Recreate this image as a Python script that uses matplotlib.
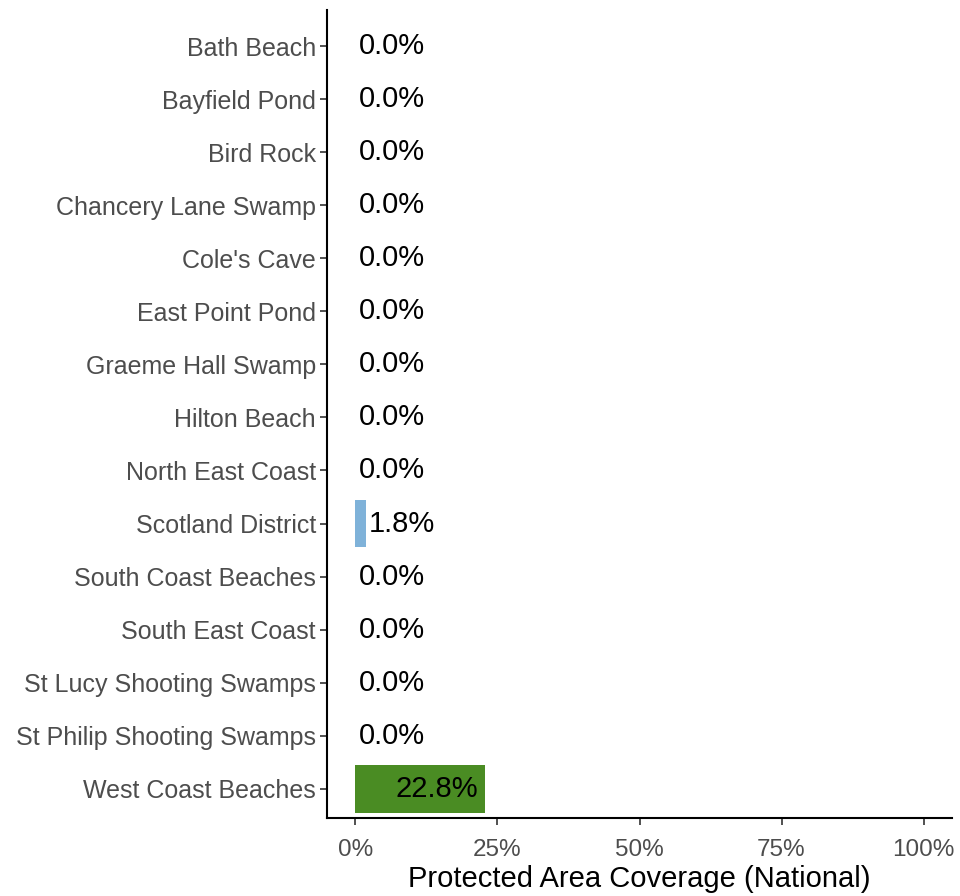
import matplotlib
matplotlib.use("Agg")
import matplotlib.pyplot as plt
from matplotlib.ticker import FuncFormatter

plt.rcParams['font.family'] = ['Liberation Sans', 'DejaVu Sans']

sites = ["Bath Beach", "Bayfield Pond", "Bird Rock", "Chancery Lane Swamp", "Cole's Cave",
         "East Point Pond", "Graeme Hall Swamp", "Hilton Beach", "North East Coast",
         "Scotland District", "South Coast Beaches", "South East Coast",
         "St Lucy Shooting Swamps", "St Philip Shooting Swamps", "West Coast Beaches"]
coverage = [0.0, 0.0, 0.0, 0.0, 0.0, 0.0, 0.0, 0.0, 0.0, 1.8, 0.0, 0.0, 0.0, 0.0, 22.8]
bar_colors = ["#7FB2D9"] * 14 + ["#4A8C23"]
xticks = [0, 25, 50, 75, 100]

fig = plt.figure(figsize=(9.6, 8.96), dpi=100)
ax = fig.add_axes([0.3406, 0.0871, 0.6511, 0.9017])

n = len(sites)
ypos = list(range(n))
ax.barh(ypos, coverage, height=0.9, color=bar_colors)
for y, v in zip(ypos, coverage):
    label = f"{v:.1f}%"
    if v > 10:
        ax.text(v - 1.2, y, label, ha='right', va='center', fontsize=21, color='black')
    else:
        ax.text(v + 0.6, y, label, ha='left', va='center', fontsize=21, color='black')

ax.set_ylim(n - 1 + 0.55, -0.68)
ax.set_xlim(-5, 105)
ax.set_yticks(ypos)
ax.set_yticklabels(sites)
ax.set_xticks(xticks)
ax.xaxis.set_major_formatter(FuncFormatter(lambda v, p: f"{v:.0f}%"))
ax.tick_params(axis='both', labelsize=17.5, labelcolor='#4D4D4D', color='#333333',
               length=5, width=1.2)
ax.tick_params(axis='y', labelsize=18, pad=3)
ax.tick_params(axis='x', pad=10)
for s in ['top', 'right']:
    ax.spines[s].set_visible(False)
for s in ['left', 'bottom']:
    ax.spines[s].set_linewidth(1.5)
    ax.spines[s].set_color('black')
ax.set_xlabel("Protected Area Coverage (National)", fontsize=21, labelpad=3)

fig.savefig("out.png", dpi=100)
